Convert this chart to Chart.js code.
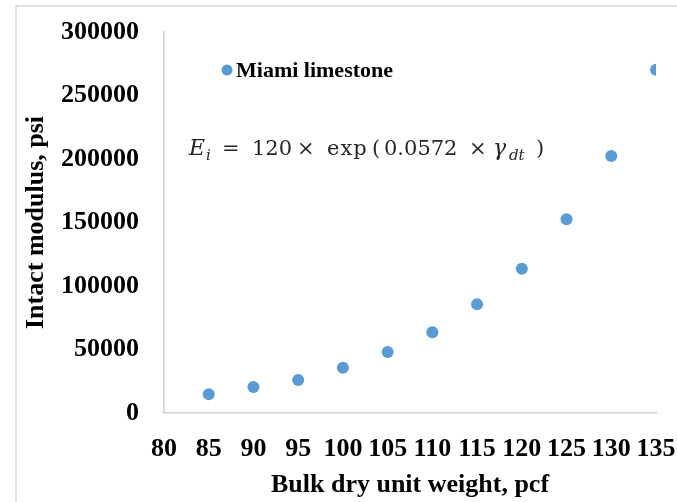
<!DOCTYPE html>
<html>
<head>
<meta charset="utf-8">
<script src="https://cdn.jsdelivr.net/npm/chart.js@4"></script>
<style>
  html, body { margin: 0; padding: 0; background: #fff; }
  #wrap { width: 677px; height: 502px; position: relative; }
</style>
</head>
<body>
<div id="wrap"><canvas id="c" width="677" height="502"></canvas></div>
<script>
// Bulk dry unit weight (pcf) and intact modulus (psi) of Miami limestone
const unitWeight = [85, 90, 95, 100, 105, 110, 115, 120, 125, 130, 135];
const intactModulus = [14700, 20400, 26000, 35600, 48000, 63500, 85700, 113500, 152500, 202300, 270300];
const xTicks = [80, 85, 90, 95, 100, 105, 110, 115, 120, 125, 130, 135];
const yTicks = [0, 50000, 100000, 150000, 200000, 250000, 300000];
const seriesName = 'Miami limestone';

const pointColor = '#5b9bd5';
const serif = '"Liberation Serif", "Times New Roman", serif';
const mathFont = '"DejaVu Serif", serif';

// plot box inside the canvas
const plotBox = { left: 164, right: 656, top: 32, bottom: 413 };

// pin the plot box so the axes sit where the frame expects them
const fixedArea = {
  id: 'fixedArea',
  afterLayout(chart) {
    const a = chart.chartArea;
    a.left = plotBox.left; a.right = plotBox.right;
    a.top = plotBox.top; a.bottom = plotBox.bottom;
    a.width = a.right - a.left; a.height = a.bottom - a.top;
    const x = chart.scales.x, y = chart.scales.y;
    x.left = a.left; x.right = a.right; x.width = a.width;
    x.top = a.bottom; x.bottom = chart.height; x.height = x.bottom - x.top;
    y.top = a.top; y.bottom = a.bottom; y.height = a.height;
    y.left = 16; y.right = a.left; y.width = y.right - y.left;
    x.configure();
    y.configure();
  }
};

// light frame around the chart
const framePlugin = {
  id: 'frame',
  beforeDraw(chart) {
    const ctx = chart.ctx;
    ctx.save();
    ctx.strokeStyle = '#d9d9d9';
    ctx.lineWidth = 1.5;
    ctx.beginPath();
    ctx.moveTo(16, chart.height);
    ctx.lineTo(16, 6);
    ctx.lineTo(chart.width, 6);
    ctx.stroke();
    ctx.restore();
  }
};

// legend entry drawn inside the plot area
const insideLegend = {
  id: 'insideLegend',
  afterDraw(chart) {
    const ctx = chart.ctx;
    const ds = chart.data.datasets[0];
    ctx.save();
    ctx.fillStyle = ds.backgroundColor;
    ctx.beginPath();
    ctx.arc(227, 70, 5.5, 0, Math.PI * 2);
    ctx.fill();
    ctx.fillStyle = '#000';
    ctx.font = 'bold 22px ' + serif;
    ctx.textBaseline = 'middle';
    ctx.textAlign = 'left';
    ctx.fillText(ds.label, 236, 71);
    ctx.restore();
  }
};

// fitted relation written on the plot, set piece by piece like a math line
const equationPlugin = {
  id: 'equation',
  afterDraw(chart) {
    const ctx = chart.ctx;
    const big = '21px ' + mathFont;
    const bigIt = 'italic 22px ' + mathFont;
    const subIt = 'italic 15px ' + mathFont;
    const base = 155;
    const pieces = [
      { t: 'E', f: bigIt, x: 189, dy: 0 },
      { t: 'i', f: subIt, x: 206, dy: 5 },
      { t: '=', f: big, x: 222, dy: 0 },
      { t: '120', f: big, x: 252, dy: 0 },
      { t: '×', f: big, x: 297, dy: 0 },
      { t: 'exp', f: big, x: 327, dy: 0, ls: '1px' },
      { t: '(', f: big, x: 372, dy: 0 },
      { t: '0.0572', f: big, x: 384, dy: 0 },
      { t: '×', f: big, x: 469, dy: 0 },
      { t: 'γ', f: bigIt, x: 493, dy: 0 },
      { t: 'dt', f: subIt, x: 509, dy: 5 },
      { t: ')', f: big, x: 536, dy: 0 }
    ];
    ctx.save();
    ctx.fillStyle = '#262626';
    ctx.textBaseline = 'alphabetic';
    ctx.textAlign = 'left';
    for (const p of pieces) {
      ctx.font = p.f;
      ctx.letterSpacing = p.ls || '0px';
      ctx.fillText(p.t, p.x, base + p.dy);
    }
    ctx.letterSpacing = '0px';
    ctx.restore();
  }
};

new Chart(document.getElementById('c'), {
  type: 'scatter',
  data: {
    datasets: [{
      label: seriesName,
      data: unitWeight.map((x, i) => ({ x: x, y: intactModulus[i] })),
      backgroundColor: pointColor,
      borderColor: pointColor,
      pointRadius: 6,
      pointHoverRadius: 6,
      borderWidth: 0
    }]
  },
  options: {
    responsive: false,
    animation: false,
    devicePixelRatio: 1,
    layout: { padding: { top: 24, right: 2, left: 16, bottom: 0 } },
    plugins: {
      legend: { display: false },
      tooltip: { enabled: false }
    },
    scales: {
      x: {
        type: 'linear',
        min: xTicks[0],
        max: xTicks[xTicks.length - 1],
        afterBuildTicks(scale) { scale.ticks = xTicks.map(v => ({ value: v })); },
        afterFit(scale) { scale.height = 89; },
        grid: { display: false, drawTicks: false },
        border: { display: true, color: '#d0d0d0', width: 1.5 },
        ticks: {
          autoSkip: false,
          maxRotation: 0,
          padding: 21,
          color: '#000',
          font: { family: serif, size: 26, weight: 'bold' }
        },
        title: {
          display: true,
          text: 'Bulk dry unit weight, pcf',
          color: '#000',
          font: { family: serif, size: 26, weight: 'bold' },
          padding: { top: 0, bottom: 1 }
        }
      },
      y: {
        type: 'linear',
        min: yTicks[0],
        max: yTicks[yTicks.length - 1],
        afterBuildTicks(scale) { scale.ticks = yTicks.map(v => ({ value: v })); },
        afterFit(scale) { scale.width = 148; },
        grid: { display: false, drawTicks: false },
        border: { display: true, color: '#d0d0d0', width: 1.5 },
        ticks: {
          padding: 25,
          color: '#000',
          font: { family: serif, size: 26, weight: 'bold' },
          callback: v => String(v)
        },
        title: {
          display: true,
          text: 'Intact modulus, psi',
          color: '#000',
          font: { family: serif, size: 26, weight: 'bold' },
          padding: { top: 5, bottom: 0 }
        }
      }
    }
  },
  plugins: [fixedArea, framePlugin, insideLegend, equationPlugin]
});
</script>
</body>
</html>
